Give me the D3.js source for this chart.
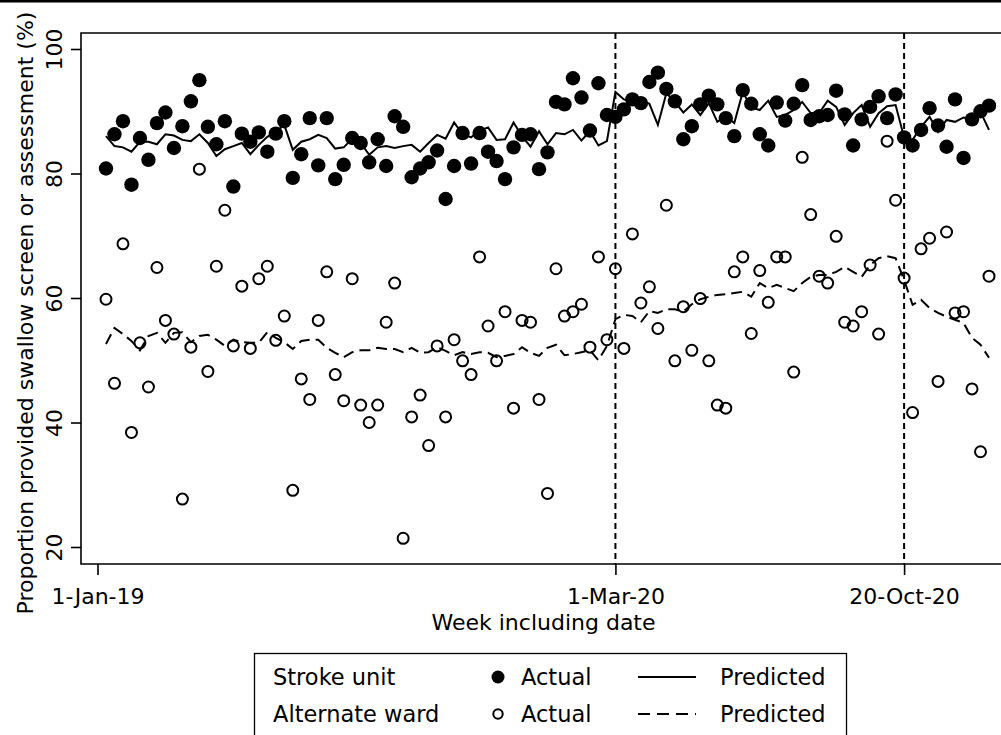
<!DOCTYPE html>
<html>
<head>
<meta charset="utf-8">
<style>
  body { margin: 0; background: #fff; }
  text { font-family: "DejaVu Sans", sans-serif; fill: #000; }
</style>
</head>
<body>
<script src="https://cdn.jsdelivr.net/npm/d3@7"></script>
<script>
    // weekly data, week 1 = first week of 2019
    const weeks = d3.range(1, 106)

    const strokeActual = [
        80.8, 86.3, 88.4, 78.2, 85.7, 82.2, 88.1, 89.8, 84.1, 87.6,
        91.6, 95.0, 87.5, 84.7, 88.4, 77.9, 86.4, 85.1, 86.6, 83.5,
        86.4, 88.4, 79.3, 83.1, 88.9, 81.3, 88.9, 79.1, 81.4, 85.7,
        84.9, 81.8, 85.5, 81.2, 89.2, 87.5, 79.4, 80.8, 81.8, 83.7,
        75.9, 81.2, 86.5, 81.6, 86.5, 83.5, 82.0, 79.1, 84.2, 86.2,
        86.3, 80.7, 83.4, 91.5, 91.1, 95.3, 92.2, 86.9, 94.5, 89.4,
        89.1, 90.3, 91.9, 91.3, 94.7, 96.2, 93.6, 91.6, 85.5, 87.6,
        91.1, 92.5, 91.1, 88.9, 86.0, 93.4, 91.2, 86.3, 84.5, 91.4,
        88.5, 91.2, 94.2, 88.6, 89.2, 89.4, 93.3, 89.5, 84.5, 88.7,
        90.7, 92.4, 88.9, 92.7, 85.8, 84.5, 87.0, 90.5, 87.7, 84.3,
        91.9, 82.5, 88.7, 90.0, 90.9
    ]
    const strokePred = [
        86.0, 84.4, 84.2, 83.5, 85.1, 85.1, 84.7, 86.3, 86.1, 85.4,
        85.2, 86.3, 84.9, 82.8, 83.9, 84.4, 84.9, 83.1, 84.6, 85.9,
        86.7, 87.8, 83.8, 85.1, 85.5, 86.2, 85.7, 84.0, 84.2, 85.6,
        84.9, 83.0, 84.2, 84.4, 84.1, 84.4, 84.6, 83.5, 84.9, 86.2,
        85.6, 88.2, 86.3, 85.8, 86.9, 87.4, 85.4, 85.5, 88.2, 86.0,
        84.3, 86.8, 84.7, 86.5, 86.3, 87.0, 85.3, 86.8, 84.5, 85.2,
        93.1, 91.9, 91.5, 91.8, 91.2, 87.8, 92.9, 91.5, 89.8, 91.1,
        89.4, 91.3, 88.3, 89.2, 88.1, 93.1, 90.6, 90.2, 91.7, 89.1,
        89.4, 90.2, 91.5, 89.7, 89.7, 91.7, 90.7, 87.8, 89.7, 91.0,
        87.5, 89.7, 90.8, 91.0, 85.8, 85.4, 87.5, 89.1, 86.7, 88.6,
        88.3, 89.0, 88.7, 89.9, 87.0
    ]
    const altActual = [
        59.8, 46.3, 68.7, 38.4, 52.8, 45.7, 64.9, 56.4, 54.2, 27.7,
        52.1, 80.7, 48.2, 65.1, 74.1, 52.3, 61.9, 51.9, 63.1, 65.1,
        53.2, 57.1, 29.1, 47.0, 43.7, 56.4, 64.2, 47.7, 43.5, 63.1,
        42.8, 40.0, 42.8, 56.1, 62.4, 21.4, 40.9, 44.4, 36.3, 52.3,
        40.9, 53.3, 49.9, 47.7, 66.6, 55.5, 49.9, 57.8, 42.3, 56.4,
        56.1, 43.7, 28.6, 64.7, 57.1, 57.8, 59.0, 52.1, 66.6, 53.3,
        64.7, 51.9, 70.3, 59.2, 61.8, 55.1, 74.9, 49.9, 58.6, 51.6,
        59.9, 49.9, 42.8, 42.3, 64.2, 66.6, 54.3, 64.4, 59.3, 66.6,
        66.6, 48.1, 82.6, 73.4, 63.5, 62.4, 69.9, 56.1, 55.5, 57.8,
        65.3, 54.2, 85.2, 75.7, 63.2, 41.6, 67.9, 69.6, 46.6, 70.6,
        57.6, 57.8, 45.4, 35.3, 63.5
    ]
    const altPred = [
        52.6, 55.2, 54.2, 53.1, 51.6, 53.9, 54.4, 52.8, 54.4, 54.5,
        52.9, 53.9, 54.1, 53.3, 52.3, 53.3, 52.9, 52.8, 52.8, 54.5,
        53.6, 52.9, 51.8, 53.1, 53.3, 53.3, 52.0, 51.2, 50.5, 51.3,
        51.6, 51.6, 52.0, 51.8, 51.8, 51.3, 52.0, 51.2, 51.3, 52.1,
        51.5, 50.8, 51.3, 51.0, 51.3, 51.2, 50.5, 50.7, 51.0, 52.1,
        51.2, 50.7, 52.0, 52.5, 50.8, 51.0, 51.3, 51.6, 50.0, 52.3,
        56.6, 57.3, 57.1, 56.1, 57.9, 57.6, 58.2, 58.2, 57.8, 59.0,
        59.8, 60.2, 60.5, 60.6, 60.8, 61.0, 60.2, 62.4, 61.6, 62.1,
        61.6, 61.1, 62.4, 63.4, 63.7, 63.7, 64.2, 65.0, 64.2, 63.4,
        65.3, 66.4, 66.7, 66.4, 62.9, 58.9, 59.7, 58.4, 57.6, 57.0,
        56.5, 56.0, 53.6, 52.5, 50.4
    ]

    const tickWeeks = [0, 61, 95]
    const tickLabels = ["1-Jan-19", "1-Mar-20", "20-Oct-20"]
    const refWeeks = [61, 95]
    const yTicks = [20, 40, 60, 80, 100]

    let W = 1001, H = 735
    let plotLeft = 81, plotTop = 33, plotBottom = 564

    let svg = d3.select("body").append("svg").attr("width", W).attr("height", H)

    let x = d3.scaleLinear().domain([0, 105]).range([97.5, 989])
    let y = d3.scaleLinear().domain([20, 100]).range([547, 49])

    // thin black band at the very top of the image
    svg.append("rect").attr("x", 0).attr("y", 0).attr("width", W).attr("height", 2.5).attr("fill", "#000")

    // frame: left axis, top border, bottom axis
    svg.append("path")
        .attr("d", `M${W + 5},${plotTop}H${plotLeft}V${plotBottom}H${W + 5}`)
        .attr("fill", "none").attr("stroke", "#000").attr("stroke-width", 1.6)

    // y axis
    let yAxis = svg.append("g").attr("transform", `translate(${plotLeft},0)`)
        .call(d3.axisLeft(y).tickValues(yTicks).tickSize(10).tickFormat(d3.format("d")))
    yAxis.select(".domain").remove()
    yAxis.selectAll("line").attr("stroke-width", 1.6)
    yAxis.selectAll("text")
        .attr("transform", "rotate(-90)")
        .attr("x", 0).attr("y", -19).attr("dy", 0)
        .attr("text-anchor", "middle")
        .style("font-size", "22px").style("font-family", "DejaVu Sans")

    // x axis
    let xAxis = svg.append("g").attr("transform", `translate(0,${plotBottom})`)
        .call(d3.axisBottom(x).tickValues(tickWeeks).tickSize(11)
            .tickFormat((d, i) => tickLabels[i]))
    xAxis.select(".domain").remove()
    xAxis.selectAll("line").attr("stroke-width", 1.6)
    xAxis.selectAll("text")
        .attr("y", 40).attr("dy", 0)
        .style("font-size", "22px").style("font-family", "DejaVu Sans")

    // axis titles
    svg.append("text").attr("x", 543.5).attr("y", 630).attr("text-anchor", "middle")
        .style("font-size", "22px").text("Week including date")
    svg.append("text").attr("transform", "translate(33,313) rotate(-90)").attr("text-anchor", "middle")
        .style("font-size", "22px").text("Proportion provided swallow screen or assessment (%)")

    // reference lines
    svg.selectAll(".ref").data(refWeeks).join("line").attr("class", "ref")
        .attr("x1", d => x(d)).attr("x2", d => x(d))
        .attr("y1", plotTop).attr("y2", plotBottom)
        .attr("stroke", "#000").attr("stroke-width", 2).attr("stroke-dasharray", "6,4")

    let line = d3.line().x(d => x(d[0])).y(d => y(d[1]))

    svg.append("path").datum(weeks.map((w, i) => [w, strokePred[i]]))
        .attr("d", line).attr("fill", "none").attr("stroke", "#000").attr("stroke-width", 2)
    svg.append("path").datum(weeks.map((w, i) => [w, altPred[i]]))
        .attr("d", line).attr("fill", "none").attr("stroke", "#000").attr("stroke-width", 2)
        .attr("stroke-dasharray", "11,6")

    svg.append("g").selectAll("circle").data(weeks.map((w, i) => [w, altActual[i]])).join("circle")
        .attr("cx", d => x(d[0])).attr("cy", d => y(d[1])).attr("r", 5.5)
        .attr("fill", "none").attr("stroke", "#000").attr("stroke-width", 2)

    svg.append("g").selectAll("circle").data(weeks.map((w, i) => [w, strokeActual[i]])).join("circle")
        .attr("cx", d => x(d[0])).attr("cy", d => y(d[1])).attr("r", 7.2)
        .attr("fill", "#000")

    // legend
    let lg = svg.append("g")
    lg.append("rect").attr("x", 254.5).attr("y", 653.5).attr("width", 592).attr("height", 100)
        .attr("fill", "#fff").attr("stroke", "#000").attr("stroke-width", 1.3)
    let rows = [
        {name: "Stroke unit", filled: true, dash: null, ty: 685, my: 677},
        {name: "Alternate ward", filled: false, dash: "12,7", ty: 722, my: 714}
    ]
    rows.forEach(r => {
        lg.append("text").attr("x", 273).attr("y", r.ty).style("font-size", "22.5px").text(r.name)
        lg.append("circle").attr("cx", 498).attr("cy", r.my).attr("r", r.filled ? 6.5 : 4.7)
            .attr("fill", r.filled ? "#000" : "none").attr("stroke", "#000").attr("stroke-width", r.filled ? 0 : 2)
        lg.append("text").attr("x", 521).attr("y", r.ty).style("font-size", "22.5px").text("Actual")
        lg.append("line").attr("x1", 638).attr("x2", 696).attr("y1", r.my).attr("y2", r.my)
            .attr("stroke", "#000").attr("stroke-width", 2).attr("stroke-dasharray", r.dash)
        lg.append("text").attr("x", 720).attr("y", r.ty).style("font-size", "22.5px").text("Predicted")
    })
</script>
</body>
</html>
